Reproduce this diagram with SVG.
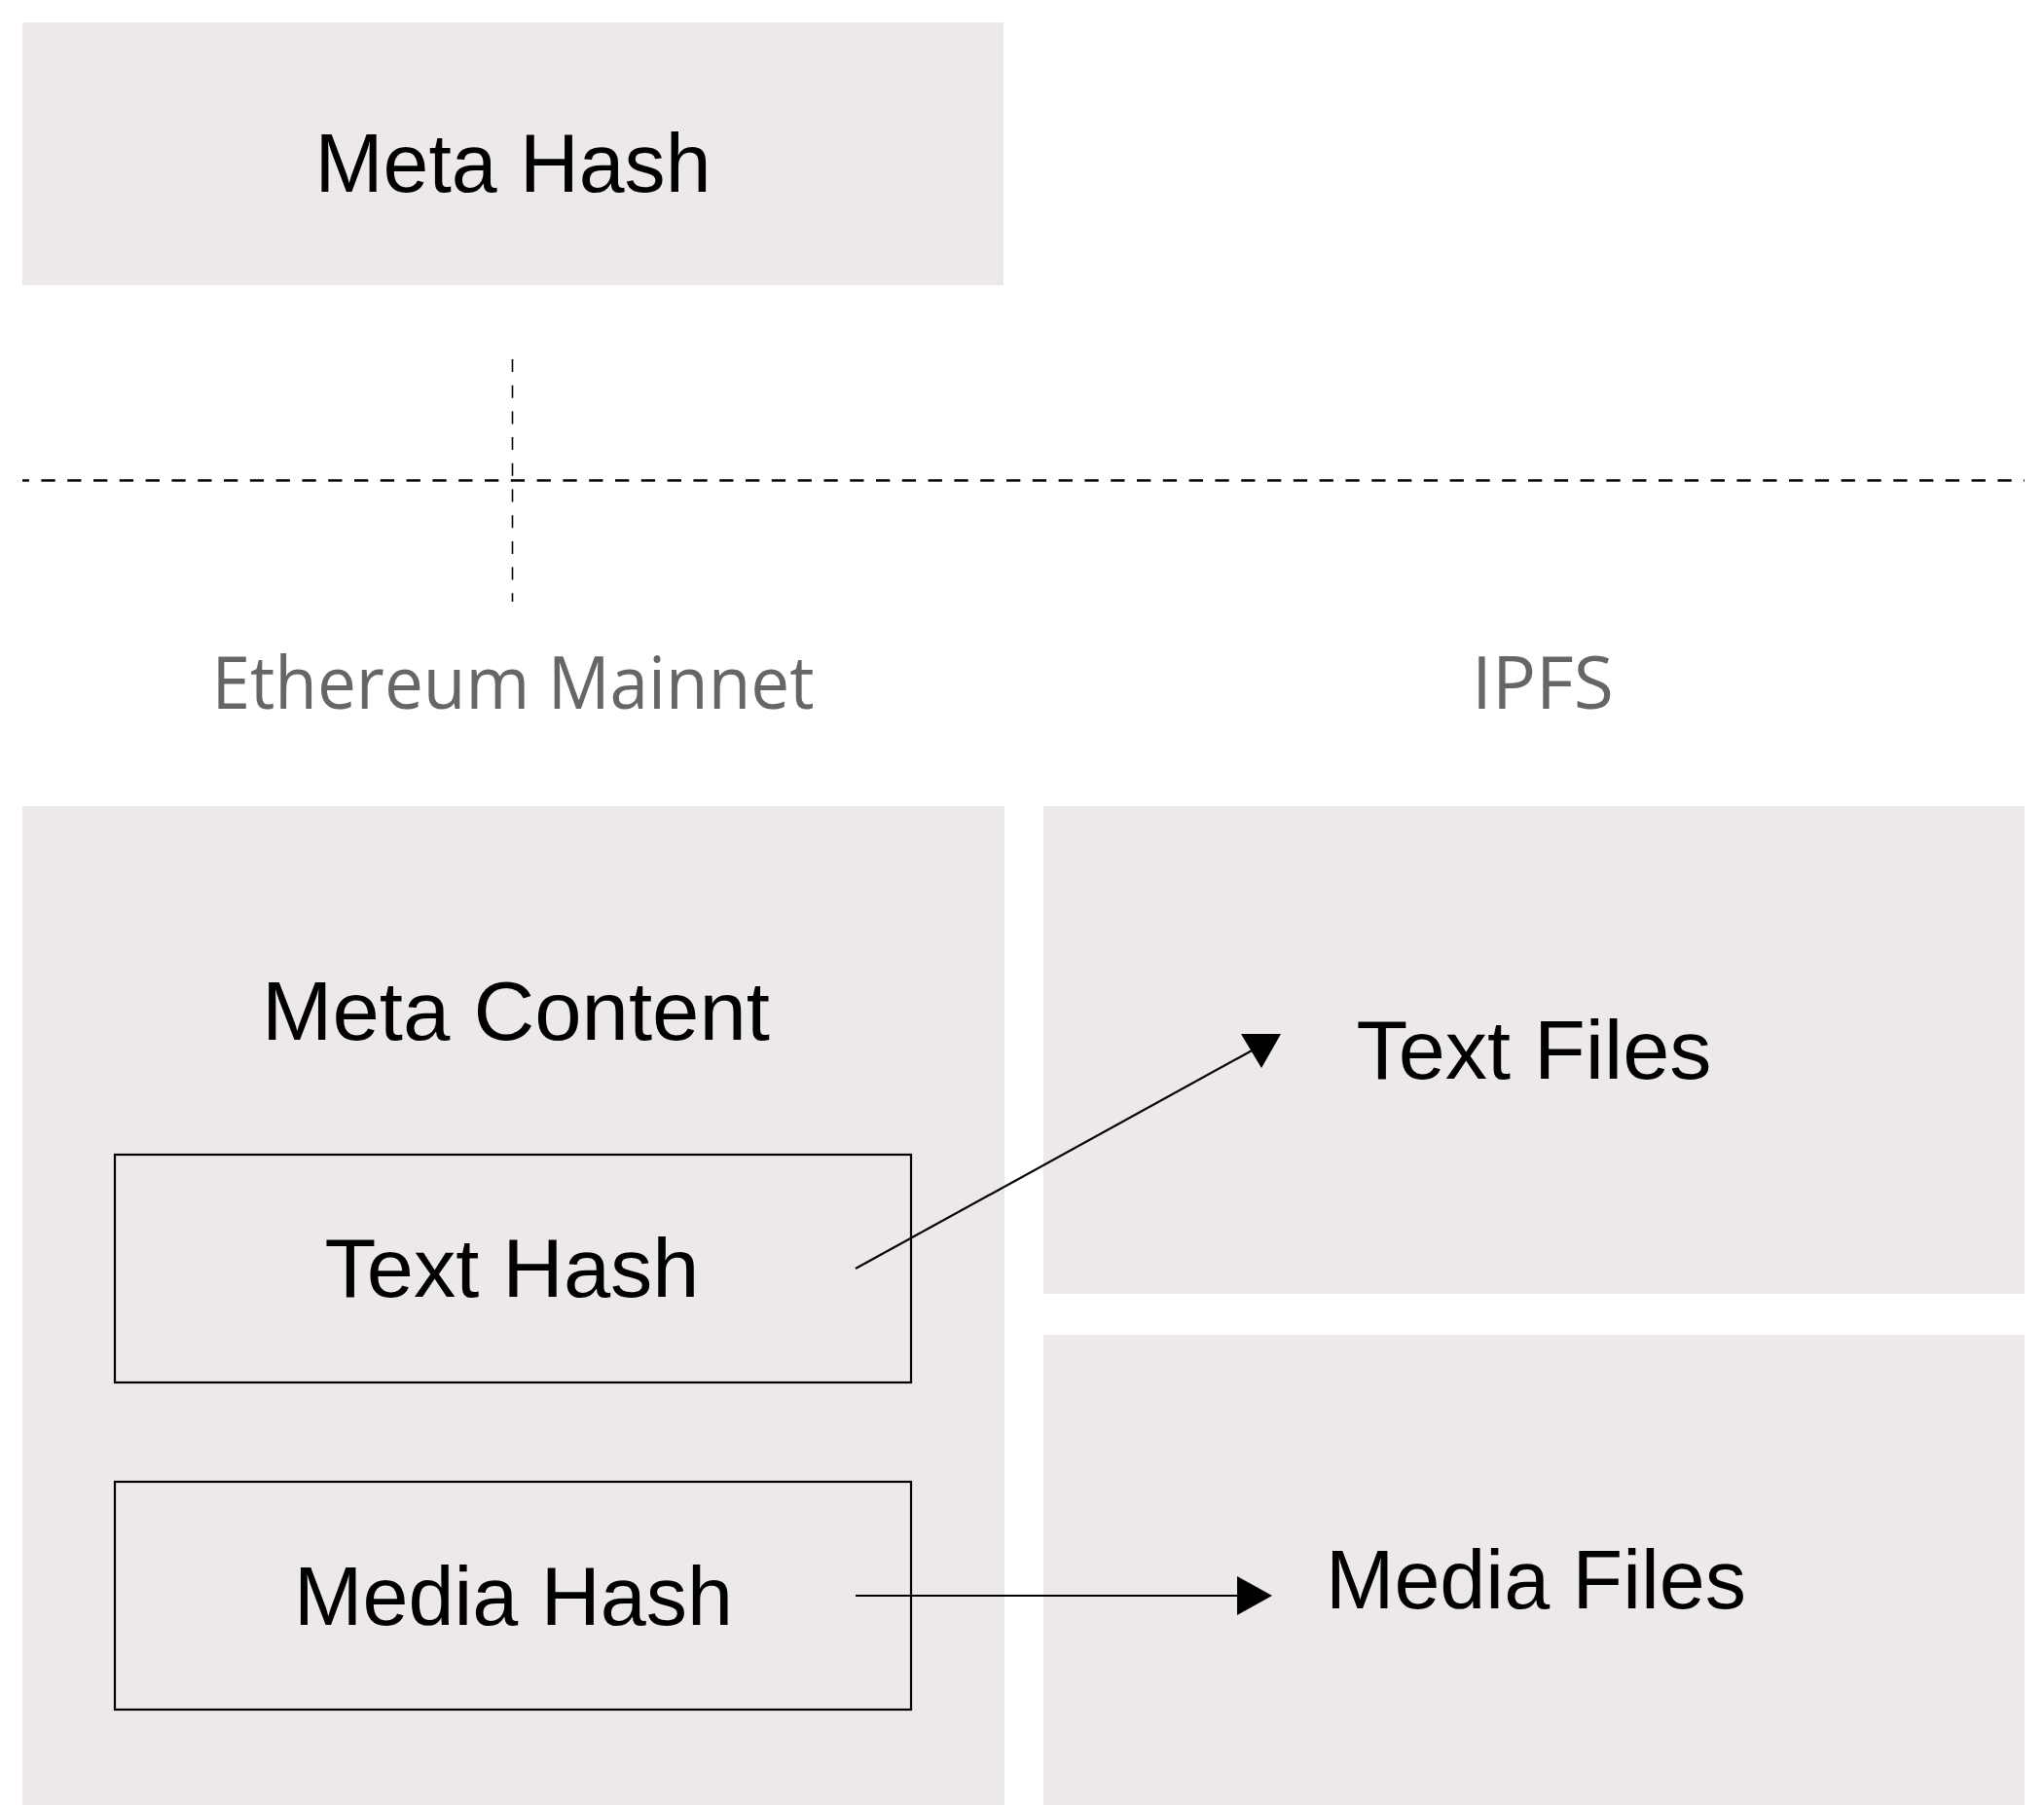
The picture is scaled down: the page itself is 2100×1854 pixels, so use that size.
<svg xmlns="http://www.w3.org/2000/svg" width="2100" height="1854" viewBox="0 0 2100 1854">
  <style>
    .panel { fill: #ece9e8; }
    .inner { fill: none; stroke: #000; stroke-width: 2.2; }
    .label { font-family: "Liberation Sans", Arial, sans-serif; font-size: 86px; fill: #000; text-anchor: middle; }
    .zone { font-family: "Open Sans", "Liberation Sans", sans-serif; font-size: 75px; fill: #666666; text-anchor: middle; }
    .dash { stroke: #000; fill: none; }
    .conn { stroke: #000; stroke-width: 2.2; fill: none; }
    .head { fill: #000; }
  </style>
  <rect width="2100" height="1854" fill="#ffffff"/>

  <g id="meta-hash">
    <rect class="panel" x="23" y="23" width="1008" height="270"/>
    <text class="label" x="527" y="197" textLength="407" lengthAdjust="spacingAndGlyphs">Meta Hash</text>
  </g>

  <g id="separators">
    <line class="dash" x1="23" y1="493.5" x2="2080" y2="493.5" stroke-width="2.6" stroke-dasharray="14.3 12.5" stroke-dashoffset="7.4"/>
    <line class="dash" x1="526.5" y1="369" x2="526.5" y2="618" stroke-width="1.6" stroke-dasharray="13 13.7"/>
  </g>

  <g id="zone-labels">
    <text class="zone" x="527" y="728" textLength="619" lengthAdjust="spacingAndGlyphs">Ethereum Mainnet</text>
    <text class="zone" x="1585" y="728">IPFS</text>
  </g>

  <g id="meta-content">
    <rect class="panel" x="23" y="828" width="1009" height="1026"/>
    <text class="label" x="530" y="1068" textLength="522" lengthAdjust="spacingAndGlyphs">Meta Content</text>
  </g>

  <g id="text-hash">
    <rect class="inner" x="118" y="1186" width="818" height="234"/>
    <text class="label" x="526" y="1332" textLength="385" lengthAdjust="spacingAndGlyphs">Text Hash</text>
  </g>

  <g id="media-hash">
    <rect class="inner" x="118" y="1522" width="818" height="234"/>
    <text class="label" x="527.5" y="1669" textLength="451" lengthAdjust="spacingAndGlyphs">Media Hash</text>
  </g>

  <g id="text-files">
    <rect class="panel" x="1072" y="828" width="1008" height="501"/>
    <text class="label" x="1576" y="1108" textLength="365" lengthAdjust="spacingAndGlyphs">Text Files</text>
  </g>

  <g id="media-files">
    <rect class="panel" x="1072" y="1371" width="1008" height="483"/>
    <text class="label" x="1578" y="1652" textLength="432" lengthAdjust="spacingAndGlyphs">Media Files</text>
  </g>

  <g id="connectors">
    <line class="conn" x1="879" y1="1303" x2="1288" y2="1078"/>
    <polygon class="head" points="1275,1062 1316,1062 1296,1097"/>
    <line class="conn" x1="879" y1="1639" x2="1274" y2="1639"/>
    <polygon class="head" points="1271,1619 1307,1639 1271,1659"/>
  </g>
</svg>
